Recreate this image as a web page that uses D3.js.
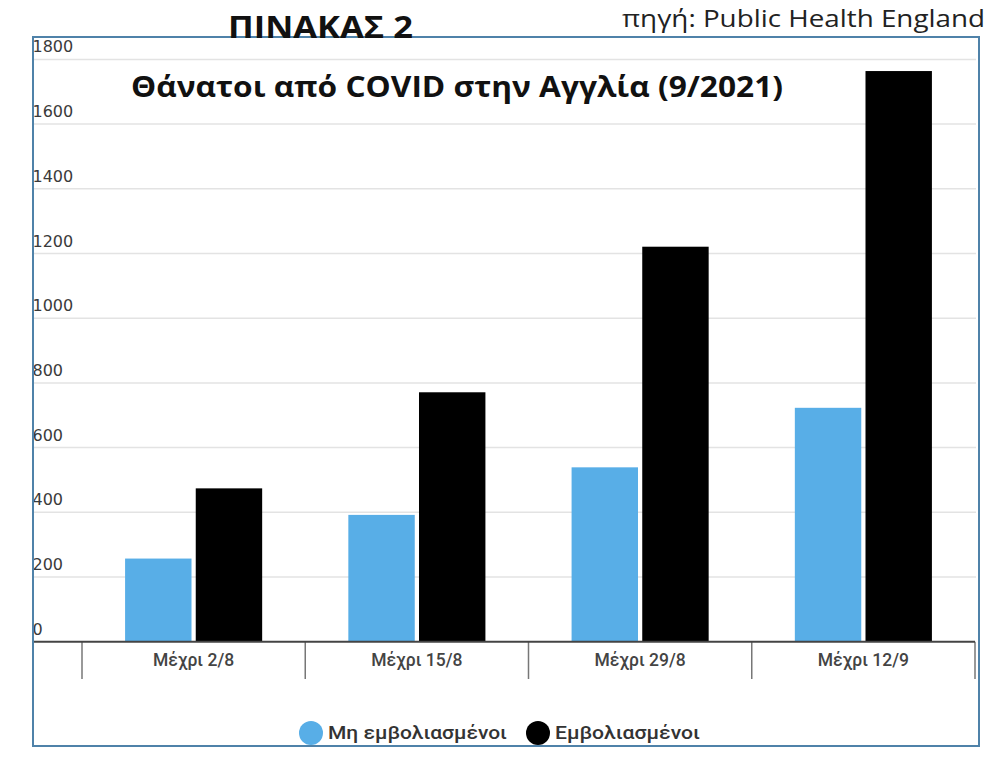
<!DOCTYPE html>
<html>
<head>
<meta charset="utf-8">
<script src="https://cdn.jsdelivr.net/npm/d3@7.9.0/dist/d3.min.js"></script>
<style>
  html, body { margin: 0; padding: 0; background: #fff; }
  svg { display: block; }
</style>
</head>
<body>
<div id="chart"></div>
<script>
// -------- data --------
const categories = ['Μέχρι 2/8', 'Μέχρι 15/8', 'Μέχρι 29/8', 'Μέχρι 12/9'];
const seriesNames = ['Μη εμβολιασμένοι', 'Εμβολιασμένοι'];
const unvaccinated = [257, 392, 539, 723];
const vaccinated = [474, 771, 1221, 1764];
const yTicks = [0, 200, 400, 600, 800, 1000, 1200, 1400, 1600, 1800];

const colors = { 'Μη εμβολιασμένοι': '#58aee7', 'Εμβολιασμένοι': '#000000' };

const rows = categories.map((c, i) => ({
  category: c,
  values: [
    { name: seriesNames[0], value: unvaccinated[i] },
    { name: seriesNames[1], value: vaccinated[i] }
  ]
}));

// -------- layout --------
const width = 1000;
const height = 764;
const frame = { left: 33, top: 37, right: 979, bottom: 746 };
const plot = { left: 82, right: 975, top: 59.4, bottom: 641.7 };

const svg = d3.select('#chart')
  .append('svg')
  .attr('width', width)
  .attr('height', height);

const x0 = d3.scaleBand()
  .domain(categories)
  .range([plot.left, plot.right])
  .paddingInner(0.386)
  .paddingOuter(0.193);

const x1 = d3.scaleBand()
  .domain(seriesNames)
  .range([0, x0.bandwidth()])
  .paddingInner(0.06);

const y = d3.scaleLinear()
  .domain([0, 1800])
  .range([plot.bottom, plot.top]);

// gridlines
svg.append('g')
  .attr('class', 'gridlines')
  .selectAll('line')
  .data(yTicks.filter(d => d > 0))
  .join('line')
  .attr('x1', frame.left)
  .attr('x2', 976)
  .attr('y1', d => y(d))
  .attr('y2', d => y(d))
  .attr('stroke', '#e3e3e3')
  .attr('stroke-width', 1.5);

// y tick labels (sit above their gridline, first digit tucked under the frame)
svg.append('g')
  .attr('class', 'y-labels')
  .selectAll('text')
  .data(yTicks)
  .join('text')
  .attr('x', 32.5)
  .attr('y', d => y(d) - 7)
  .attr('font-family', '"DejaVu Sans", sans-serif')
  .attr('font-size', 16)
  .attr('fill', '#3a3a3a')
  .text(d => d);

// bars
const groups = svg.append('g')
  .attr('class', 'bars')
  .selectAll('g')
  .data(rows)
  .join('g')
  .attr('transform', d => `translate(${x0(d.category)},0)`);

groups.selectAll('rect')
  .data(d => d.values)
  .join('rect')
  .attr('x', d => x1(d.name))
  .attr('width', x1.bandwidth())
  .attr('y', d => y(d.value))
  .attr('height', d => y(0) - y(d.value))
  .attr('fill', d => colors[d.name]);

// x axis
const xAxis = svg.append('g')
  .attr('class', 'x-axis')
  .attr('transform', `translate(0,${plot.bottom})`)
  .call(d3.axisBottom(x0).tickSize(0).tickPadding(12));
xAxis.select('.domain').remove();
xAxis.selectAll('text')
  .attr('font-family', 'Roboto, sans-serif')
  .attr('font-size', 17.5)
  .attr('font-weight', 500)
  .attr('fill', '#444');

// category boundary ticks
const bounds = d3.range(categories.length + 1).map(i => plot.left + i * x0.step());
svg.append('g')
  .attr('class', 'x-bounds')
  .selectAll('line')
  .data(bounds)
  .join('line')
  .attr('x1', d => d)
  .attr('x2', d => d)
  .attr('y1', plot.bottom)
  .attr('y2', 679)
  .attr('stroke', '#777')
  .attr('stroke-width', 1.5);

svg.append('line')
  .attr('x1', frame.left)
  .attr('x2', plot.right)
  .attr('y1', plot.bottom)
  .attr('y2', plot.bottom)
  .attr('stroke', '#444')
  .attr('stroke-width', 2);

// frame
svg.append('rect')
  .attr('x', frame.left)
  .attr('y', frame.top)
  .attr('width', frame.right - frame.left)
  .attr('height', frame.bottom - frame.top)
  .attr('fill', 'none')
  .attr('stroke', '#4f82a9')
  .attr('stroke-width', 2);

// legend
const legendItems = [
  { name: seriesNames[0], cx: 311, tx: 328, w: 179 },
  { name: seriesNames[1], cx: 538, tx: 555, w: 145 }
];
const legend = svg.append('g').attr('class', 'legend');
legend.selectAll('circle')
  .data(legendItems)
  .join('circle')
  .attr('cx', d => d.cx)
  .attr('cy', 733)
  .attr('r', 12)
  .attr('fill', d => colors[d.name]);
legend.selectAll('text')
  .data(legendItems)
  .join('text')
  .attr('x', d => d.tx)
  .attr('y', 739)
  .attr('font-family', 'Roboto, sans-serif')
  .attr('font-size', 18)
  .attr('font-weight', 500)
  .attr('fill', '#333')
  .attr('textLength', d => d.w)
  .attr('lengthAdjust', 'spacingAndGlyphs')
  .text(d => d.name);

// titles
svg.append('text')
  .attr('x', 228)
  .attr('y', 38)
  .attr('font-family', '"Open Sans", sans-serif')
  .attr('font-size', 30)
  .attr('font-weight', 700)
  .attr('fill', '#111')
  .attr('textLength', 185)
  .attr('lengthAdjust', 'spacingAndGlyphs')
  .text('ΠΙΝΑΚΑΣ 2');

svg.append('text')
  .attr('x', 131)
  .attr('y', 97)
  .attr('font-family', '"Open Sans", sans-serif')
  .attr('font-size', 28)
  .attr('font-weight', 700)
  .attr('fill', '#111')
  .attr('textLength', 652)
  .attr('lengthAdjust', 'spacingAndGlyphs')
  .text('Θάνατοι από COVID στην Αγγλία (9/2021)');

svg.append('text')
  .attr('x', 622)
  .attr('y', 27)
  .attr('font-family', '"Open Sans", sans-serif')
  .attr('font-size', 23)
  .attr('fill', '#222')
  .attr('textLength', 363)
  .attr('lengthAdjust', 'spacingAndGlyphs')
  .text('πηγή: Public Health England');
</script>
</body>
</html>
